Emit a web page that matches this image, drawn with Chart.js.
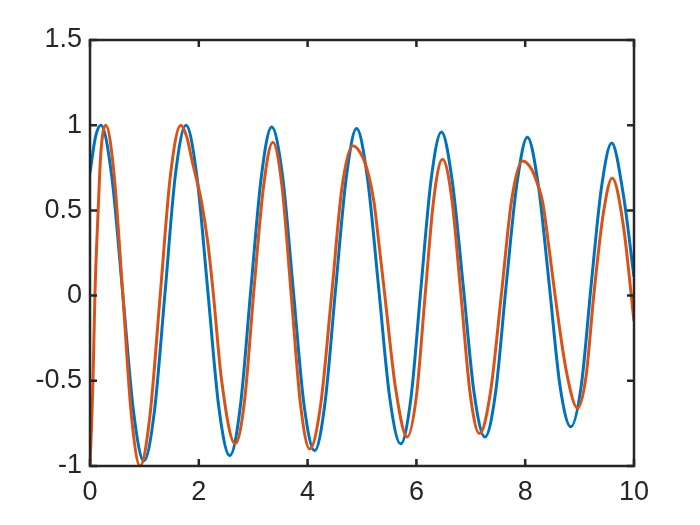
<!DOCTYPE html>
<html>
<head>
<meta charset="utf-8">
<script src="https://cdn.jsdelivr.net/npm/chart.js@4/dist/chart.umd.min.js"></script>
<style>
  html, body { margin: 0; padding: 0; background: #fff; }
  #wrap { width: 700px; height: 525px; }
</style>
</head>
<body>
<div id="wrap"><canvas id="myChart" width="700" height="525"></canvas></div>
<script>
// values
const blueX = [0, 0.1, 0.2, 0.4, 0.6, 0.8, 0.99, 1.18, 1.38, 1.57, 1.765, 1.965, 2.165, 2.37, 2.57,
    2.76, 2.955, 3.15, 3.34, 3.54, 3.735, 3.93, 4.13, 4.32, 4.515, 4.71, 4.9, 5.1, 5.305, 5.51, 5.71,
    5.9, 6.085, 6.27, 6.46, 6.66, 6.86, 7.06, 7.26, 7.455, 7.65, 7.845, 8.04, 8.24, 8.44, 8.64, 8.84,
    9.03, 9.215, 9.4, 9.59, 9.8, 10];
const blueY = [0.72, 0.93, 1.0, 0.7, 0.02, -0.68, -0.97, -0.69, 0.02, 0.71, 1.0, 0.7, 0.03, -0.66, -0.94,
    -0.66, 0.03, 0.7, 0.99, 0.7, 0.04, -0.63, -0.91, -0.63, 0.04, 0.69, 0.98, 0.69, 0.05, -0.6, -0.87,
    -0.6, 0.05, 0.68, 0.96, 0.67, 0.06, -0.57, -0.83, -0.57, 0.06, 0.65, 0.93, 0.65, 0.07, -0.53, -0.77,
    -0.53, 0.07, 0.63, 0.895, 0.6, 0.11];

const redX = [0, 0.03, 0.055, 0.09, 0.15, 0.2, 0.29, 0.44, 0.6, 0.76, 0.92, 1.1, 1.29, 1.48, 1.67,
    1.78, 1.87, 2.05, 2.17, 2.27, 2.42, 2.67, 2.84, 3.01, 3.19, 3.36, 3.53, 3.7, 3.87, 4.04, 4.24, 4.44, 4.63,
    4.83, 5.0, 5.12, 5.22, 5.32, 5.42, 5.62, 5.83, 6.0, 6.16, 6.32, 6.48, 6.65, 6.82, 6.99, 7.16, 7.36, 7.56,
    7.75, 7.95, 8.12, 8.22, 8.32, 8.43, 8.55, 8.76, 8.96, 9.12, 9.26, 9.44, 9.6, 9.8, 10];
const redY = [-1.0, -0.75, -0.5, 0.0, 0.5, 0.84, 1.0, 0.72, 0.02, -0.7, -1.0, -0.71, 0.0, 0.71, 1.0,
    0.93, 0.8, 0.55, 0.3, 0.0, -0.5, -0.87, -0.62, 0.02, 0.64, 0.9, 0.64, 0.0, -0.64, -0.9, -0.64, 0.0, 0.63,
    0.88, 0.82, 0.71, 0.55, 0.28, 0.0, -0.55, -0.83, -0.59, 0.0, 0.57, 0.8, 0.57, 0.0, -0.58, -0.81, -0.57, 0.0,
    0.56, 0.79, 0.74, 0.66, 0.55, 0.3, 0.0, -0.45, -0.66, -0.47, 0.0, 0.49, 0.69, 0.42, -0.15];

const xTicks = [0, 2, 4, 6, 8, 10];
const yTicks = [-1, -0.5, 0, 0.5, 1, 1.5];

const axisColor = "#262626";

function toPoints(xs, ys) {
    return xs.map((x, i) => ({ x: x, y: ys[i] }));
}

// box around the plot with inward ticks, like the original
const boxPlugin = {
    id: "box",
    afterDatasetsDraw(chart) {
        const ctx = chart.ctx;
        const a = chart.chartArea;
        const xs = chart.scales.x;
        const ys = chart.scales.y;
        const len = 7;
        ctx.save();
        ctx.strokeStyle = axisColor;
        ctx.lineWidth = 2.5;
        ctx.beginPath();
        xTicks.forEach((v) => {
            const px = xs.getPixelForValue(v);
            ctx.moveTo(px, a.bottom);
            ctx.lineTo(px, a.bottom - len);
            ctx.moveTo(px, a.top);
            ctx.lineTo(px, a.top + len);
        });
        yTicks.forEach((v) => {
            const py = ys.getPixelForValue(v);
            ctx.moveTo(a.left, py);
            ctx.lineTo(a.left + len, py);
            ctx.moveTo(a.right, py);
            ctx.lineTo(a.right - len, py);
        });
        ctx.stroke();
        ctx.strokeRect(a.left, a.top, a.right - a.left, a.bottom - a.top);
        ctx.restore();
    },
};

const ctx = document.getElementById("myChart").getContext("2d");
const myChart = new Chart(ctx, {
    type: "line",
    data: {
        datasets: [{
            data: toPoints(redX, redY),
            borderColor: "#D95319",
            borderWidth: 3,
            pointRadius: 0,
            cubicInterpolationMode: "monotone",
            order: 0,
        }, {
            data: toPoints(blueX, blueY),
            borderColor: "#0072BD",
            borderWidth: 3,
            pointRadius: 0,
            cubicInterpolationMode: "monotone",
            order: 1,
        }],
    },
    options: {
        responsive: false,
        animation: false,
        events: [],
        layout: {
            padding: { top: 40, right: 66, left: 0, bottom: 0 },
        },
        plugins: {
            legend: { display: false },
            tooltip: { enabled: false },
        },
        scales: {
            x: {
                type: "linear",
                min: 0,
                max: 10,
                afterBuildTicks: (s) => { s.ticks = xTicks.map((v) => ({ value: v })); },
                afterFit: (s) => { s.height = 59; },
                grid: { display: false, drawTicks: false },
                border: { display: false },
                ticks: {
                    color: axisColor,
                    padding: 10,
                    maxRotation: 0,
                    callback: (v) => String(v),
                    font: { family: "'Liberation Sans', Arial, sans-serif", size: 27 },
                },
            },
            y: {
                type: "linear",
                min: -1,
                max: 1.5,
                afterBuildTicks: (s) => { s.ticks = yTicks.map((v) => ({ value: v })); },
                afterFit: (s) => { s.width = 90; },
                grid: { display: false, drawTicks: false },
                border: { display: false },
                ticks: {
                    color: axisColor,
                    padding: 8,
                    callback: (v) => String(v),
                    font: { family: "'Liberation Sans', Arial, sans-serif", size: 27 },
                },
            },
        },
    },
    plugins: [boxPlugin],
});
</script>
</body>
</html>
